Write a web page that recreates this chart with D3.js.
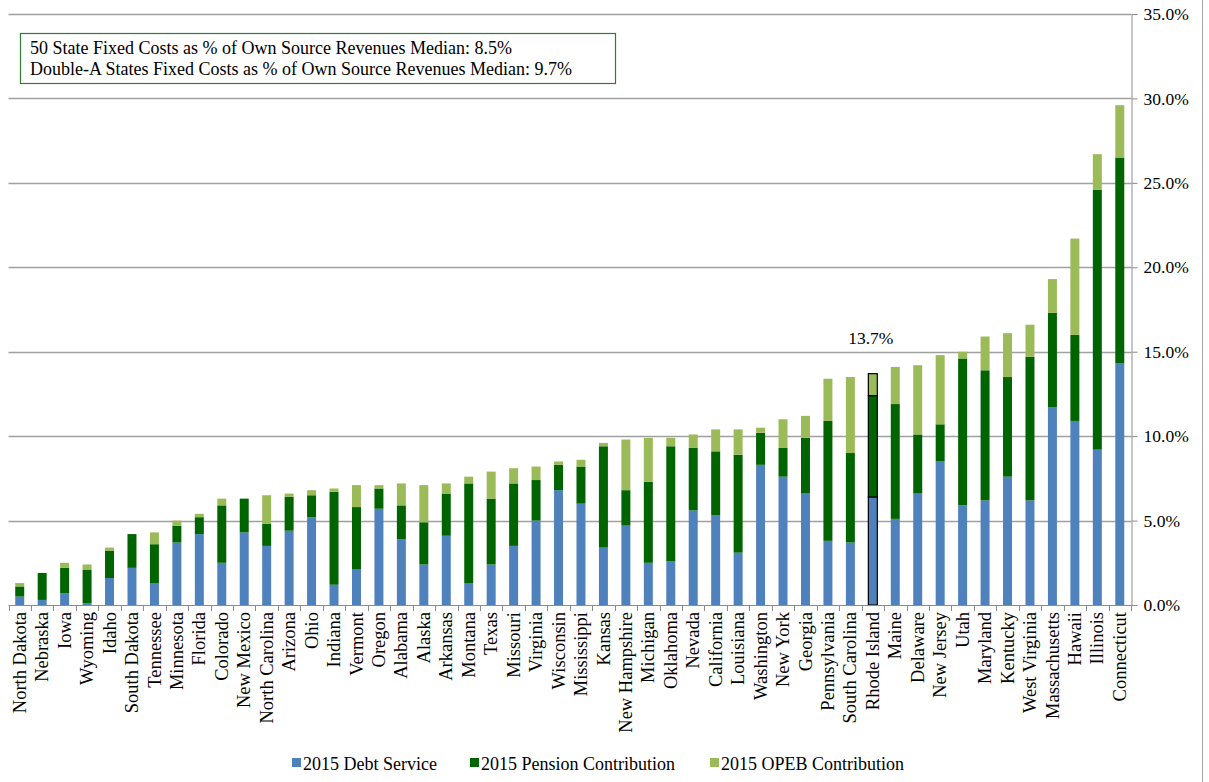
<!DOCTYPE html>
<html>
<head>
<meta charset="utf-8">
<script src="https://cdn.jsdelivr.net/npm/d3@7"></script>
<style>
  html, body { margin: 0; padding: 0; background: #fff; }
  svg { display: block; font-family: "Liberation Serif", "Times New Roman", serif; }
</style>
</head>
<body>
<svg id="chart" width="1209" height="782"></svg>
<script>
// States, ordered by total fixed costs as % of own source revenues
const states = ["North Dakota","Nebraska","Iowa","Wyoming","Idaho","South Dakota","Tennessee","Minnesota","Florida","Colorado","New Mexico","North Carolina","Arizona","Ohio","Indiana","Vermont","Oregon","Alabama","Alaska","Arkansas","Montana","Texas","Missouri","Virginia","Wisconsin","Mississippi","Kansas","New Hampshire","Michigan","Oklahoma","Nevada","California","Louisiana","Washington","New York","Georgia","Pennsylvania","South Carolina","Rhode Island","Maine","Delaware","New Jersey","Utah","Maryland","Kentucky","West Virginia","Massachusetts","Hawaii","Illinois","Connecticut"];

// 2015 Debt Service (% of own source revenues)
const debtService = [0.5,0.3,0.7,0.1,1.6,2.2,1.3,3.7,4.2,2.5,4.3,3.5,4.4,5.2,1.2,2.1,5.7,3.9,2.4,4.1,1.3,2.4,3.5,5.0,6.8,6.0,3.4,4.7,2.5,2.6,5.6,5.3,3.1,8.3,7.6,6.6,3.8,3.7,6.4,5.1,6.6,8.5,5.9,6.2,7.6,6.2,11.7,10.9,9.2,14.3];

// 2015 Pension Contribution
const pension = [0.6,1.6,1.5,2.0,1.6,2.0,2.3,1.0,1.0,3.4,2.0,1.3,2.0,1.3,5.5,3.7,1.2,2.0,2.5,2.5,5.9,3.9,3.7,2.4,1.5,2.2,6.0,2.1,4.8,6.8,3.7,3.8,5.8,1.9,1.7,3.3,7.1,5.3,6.0,6.8,3.5,2.2,8.7,7.7,5.9,8.5,5.6,5.1,15.4,12.2];

// 2015 OPEB Contribution
const opeb = [0.2,0.0,0.3,0.3,0.2,0.0,0.7,0.3,0.2,0.4,0.0,1.7,0.2,0.3,0.2,1.3,0.2,1.3,2.2,0.6,0.4,1.6,0.9,0.8,0.2,0.4,0.2,3.0,2.6,0.5,0.8,1.3,1.5,0.3,1.7,1.3,2.5,4.5,1.3,2.2,4.1,4.1,0.4,2.0,2.6,1.9,2.0,5.7,2.1,3.1];

const seriesNames = ["2015 Debt Service","2015 Pension Contribution","2015 OPEB Contribution"];
const seriesColors = ["#4F81BD","#006400","#9BBB59"];
const yTicks = [0,5,10,15,20,25,30,35];
const highlighted = "Rhode Island";
const medianNotes = [
  "50 State Fixed Costs as % of Own Source Revenues Median: 8.5%",
  "Double-A States Fixed Costs as % of Own Source Revenues Median: 9.7%"
];

const serif = "'Liberation Serif', 'Times New Roman', serif";
const svg = d3.select("#chart");
const plotLeft = 8.5, plotRight = 1131, plotTop = 14, plotBottom = 605;

const x = d3.scaleBand().domain(states).range([plotLeft, plotRight]).paddingInner(0.6).paddingOuter(0.3);
const y = d3.scaleLinear().domain([0, 35]).range([plotBottom, plotTop]);

const rows = states.map((s, i) => ({ state: s, debt: debtService[i], pension: pension[i], opeb: opeb[i] }));
const layers = d3.stack().keys(["debt","pension","opeb"])(rows);

// outer frame line on the right
svg.append("line")
  .attr("x1", 1202.5).attr("x2", 1202.5).attr("y1", 0).attr("y2", 782)
  .attr("stroke", "#a6a6a6").attr("stroke-width", 1);

// horizontal gridlines
svg.append("g").selectAll("line")
  .data(yTicks.filter(t => t > 0))
  .join("line")
  .attr("x1", plotLeft).attr("x2", plotRight)
  .attr("y1", d => Math.round(y(d)) + 0.5).attr("y2", d => Math.round(y(d)) + 0.5)
  .attr("stroke", "#a0a0a0").attr("stroke-width", 1.3);

// stacked bars
const barG = svg.append("g");
layers.forEach((layer, k) => {
  barG.append("g").selectAll("rect")
    .data(layer)
    .join("rect")
    .attr("x", d => x(d.data.state))
    .attr("width", x.bandwidth())
    .attr("y", d => y(d[1]))
    .attr("height", d => Math.max(0, y(d[0]) - y(d[1])))
    .attr("fill", seriesColors[k])
    .attr("stroke", d => d.data.state === highlighted ? "#000" : "none")
    .attr("stroke-width", 1.2);
});

// value label above the highlighted state
const hi = rows.find(r => r.state === highlighted);
const hiTotal = hi.debt + hi.pension + hi.opeb;
svg.append("text")
  .attr("x", x(highlighted) + x.bandwidth() / 2 - 2)
  .attr("y", y(hiTotal) - 30)
  .attr("text-anchor", "middle")
  .style("font-family", serif)
  .attr("font-size", 17.5)
  .attr("fill", "#000")
  .text(d3.format(".1f")(hiTotal) + "%");

// bottom category axis
const xAxis = svg.append("g");
xAxis.append("line")
  .attr("x1", plotLeft).attr("x2", plotRight).attr("y1", plotBottom + 0.5).attr("y2", plotBottom + 0.5)
  .attr("stroke", "#8c8c8c");
const step = x.step();
xAxis.append("g").selectAll("line")
  .data(d3.range(states.length + 1))
  .join("line")
  .attr("x1", i => Math.round(plotLeft + i * step) + 0.5)
  .attr("x2", i => Math.round(plotLeft + i * step) + 0.5)
  .attr("y1", plotBottom).attr("y2", plotBottom + 6)
  .attr("stroke", "#8c8c8c");
xAxis.append("g").selectAll("text")
  .data(states)
  .join("text")
  .attr("transform", d => `translate(${x(d) + x.bandwidth() / 2},${plotBottom + 7}) rotate(-90)`)
  .attr("text-anchor", "end")
  .attr("dy", "0.33em")
  .style("font-family", serif)
  .attr("font-size", 18.5)
  .attr("fill", "#000")
  .text(d => d);

// right value axis
const yAxis = svg.append("g").attr("transform", `translate(${plotRight + 0.5},0)`)
  .call(d3.axisRight(y).tickValues(yTicks).tickSize(6).tickPadding(6)
    .tickFormat(d => d3.format(".1f")(d) + "%"));
yAxis.attr("font-family", null);
yAxis.select(".domain").attr("stroke", "#8c8c8c");
yAxis.selectAll(".tick line").attr("stroke", "#8c8c8c");
yAxis.selectAll(".tick text")
  .style("font-family", serif)
  .attr("font-size", 17.5).attr("fill", "#000");

// median notes box
const noteG = svg.append("g");
noteG.append("rect")
  .attr("x", 20.5).attr("y", 33.5).attr("width", 595).attr("height", 50)
  .attr("fill", "#fff").attr("stroke", "#2e7d32").attr("stroke-width", 1.2);
noteG.selectAll("text")
  .data(medianNotes)
  .join("text")
  .attr("x", 30)
  .attr("y", (d, i) => 54 + i * 21)
  .style("font-family", serif)
  .attr("font-size", 18)
  .attr("fill", "#000")
  .text(d => d);

// legend
const legendX = [292, 470, 710];
const legend = svg.append("g");
seriesNames.forEach((name, k) => {
  legend.append("rect")
    .attr("x", legendX[k]).attr("y", 758).attr("width", 9).attr("height", 9)
    .attr("fill", seriesColors[k]);
  legend.append("text")
    .attr("x", legendX[k] + 11).attr("y", 770)
    .style("font-family", serif)
    .attr("font-size", 18)
    .attr("fill", "#000")
    .text(name);
});
</script>
</body>
</html>
